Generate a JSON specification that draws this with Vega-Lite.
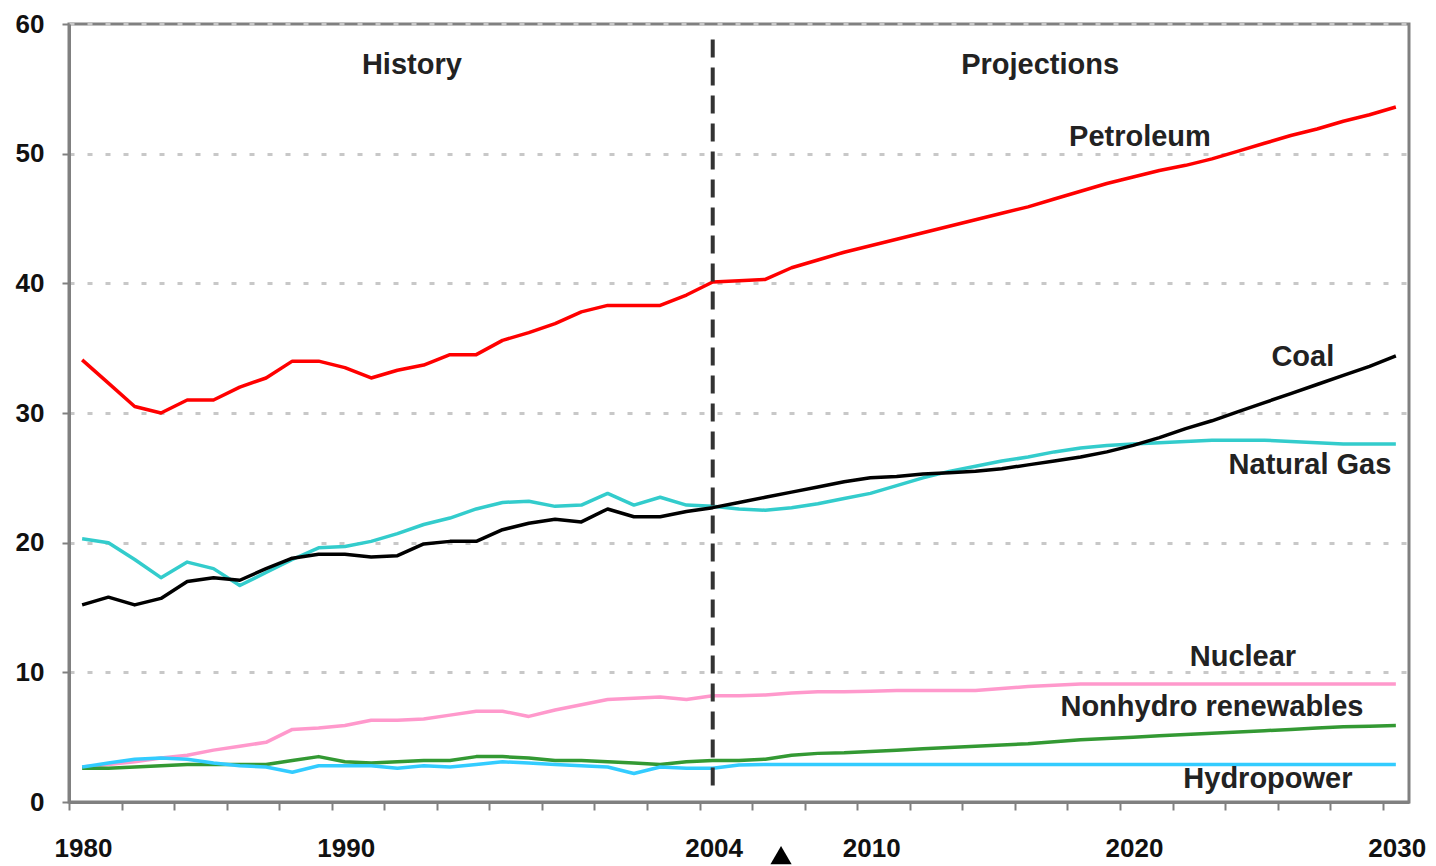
{
  "$schema": "https://vega.github.io/schema/vega-lite/v6.json",
  "autosize": {"type": "none"},
  "padding": {"left": 69, "top": 24, "right": 27, "bottom": 64},
  "width": 1340,
  "height": 778,
  "background": "white",
  "config": {
    "view": {"stroke": "#808080", "strokeWidth": 3},
    "axis": {
      "domainColor": "#808080",
      "domainWidth": 3,
      "tickColor": "#808080",
      "tickWidth": 2,
      "labelFont": "Liberation Sans",
      "labelFontWeight": "bold",
      "labelColor": "#111111",
      "labelFontSize": 26,
      "title": null
    }
  },
  "datasets": {
    "series": [
      {"year": 1980, "Petroleum": 34.1, "Coal": 15.2, "Natural Gas": 20.3, "Nuclear": 2.7, "Nonhydro renewables": 2.6, "Hydropower": 2.7},
      {"year": 1981, "Petroleum": 32.3, "Coal": 15.8, "Natural Gas": 20.0, "Nuclear": 2.9, "Nonhydro renewables": 2.6, "Hydropower": 3.0},
      {"year": 1982, "Petroleum": 30.5, "Coal": 15.2, "Natural Gas": 18.7, "Nuclear": 3.1, "Nonhydro renewables": 2.7, "Hydropower": 3.3},
      {"year": 1983, "Petroleum": 30.0, "Coal": 15.7, "Natural Gas": 17.3, "Nuclear": 3.4, "Nonhydro renewables": 2.8, "Hydropower": 3.4},
      {"year": 1984, "Petroleum": 31.0, "Coal": 17.0, "Natural Gas": 18.5, "Nuclear": 3.6, "Nonhydro renewables": 2.9, "Hydropower": 3.3},
      {"year": 1985, "Petroleum": 31.0, "Coal": 17.3, "Natural Gas": 18.0, "Nuclear": 4.0, "Nonhydro renewables": 2.9, "Hydropower": 3.0},
      {"year": 1986, "Petroleum": 32.0, "Coal": 17.1, "Natural Gas": 16.7, "Nuclear": 4.3, "Nonhydro renewables": 2.9, "Hydropower": 2.8},
      {"year": 1987, "Petroleum": 32.7, "Coal": 18.0, "Natural Gas": 17.7, "Nuclear": 4.6, "Nonhydro renewables": 2.9, "Hydropower": 2.7},
      {"year": 1988, "Petroleum": 34.0, "Coal": 18.8, "Natural Gas": 18.7, "Nuclear": 5.6, "Nonhydro renewables": 3.2, "Hydropower": 2.3},
      {"year": 1989, "Petroleum": 34.0, "Coal": 19.1, "Natural Gas": 19.6, "Nuclear": 5.7, "Nonhydro renewables": 3.5, "Hydropower": 2.8},
      {"year": 1990, "Petroleum": 33.5, "Coal": 19.1, "Natural Gas": 19.7, "Nuclear": 5.9, "Nonhydro renewables": 3.1, "Hydropower": 2.8},
      {"year": 1991, "Petroleum": 32.7, "Coal": 18.9, "Natural Gas": 20.1, "Nuclear": 6.3, "Nonhydro renewables": 3.0, "Hydropower": 2.8},
      {"year": 1992, "Petroleum": 33.3, "Coal": 19.0, "Natural Gas": 20.7, "Nuclear": 6.3, "Nonhydro renewables": 3.1, "Hydropower": 2.6},
      {"year": 1993, "Petroleum": 33.7, "Coal": 19.9, "Natural Gas": 21.4, "Nuclear": 6.4, "Nonhydro renewables": 3.2, "Hydropower": 2.8},
      {"year": 1994, "Petroleum": 34.5, "Coal": 20.1, "Natural Gas": 21.9, "Nuclear": 6.7, "Nonhydro renewables": 3.2, "Hydropower": 2.7},
      {"year": 1995, "Petroleum": 34.5, "Coal": 20.1, "Natural Gas": 22.6, "Nuclear": 7.0, "Nonhydro renewables": 3.5, "Hydropower": 2.9},
      {"year": 1996, "Petroleum": 35.6, "Coal": 21.0, "Natural Gas": 23.1, "Nuclear": 7.0, "Nonhydro renewables": 3.5, "Hydropower": 3.1},
      {"year": 1997, "Petroleum": 36.2, "Coal": 21.5, "Natural Gas": 23.2, "Nuclear": 6.6, "Nonhydro renewables": 3.4, "Hydropower": 3.0},
      {"year": 1998, "Petroleum": 36.9, "Coal": 21.8, "Natural Gas": 22.8, "Nuclear": 7.1, "Nonhydro renewables": 3.2, "Hydropower": 2.9},
      {"year": 1999, "Petroleum": 37.8, "Coal": 21.6, "Natural Gas": 22.9, "Nuclear": 7.5, "Nonhydro renewables": 3.2, "Hydropower": 2.8},
      {"year": 2000, "Petroleum": 38.3, "Coal": 22.6, "Natural Gas": 23.8, "Nuclear": 7.9, "Nonhydro renewables": 3.1, "Hydropower": 2.7},
      {"year": 2001, "Petroleum": 38.3, "Coal": 22.0, "Natural Gas": 22.9, "Nuclear": 8.0, "Nonhydro renewables": 3.0, "Hydropower": 2.2},
      {"year": 2002, "Petroleum": 38.3, "Coal": 22.0, "Natural Gas": 23.5, "Nuclear": 8.1, "Nonhydro renewables": 2.9, "Hydropower": 2.7},
      {"year": 2003, "Petroleum": 39.1, "Coal": 22.4, "Natural Gas": 22.9, "Nuclear": 7.9, "Nonhydro renewables": 3.1, "Hydropower": 2.6},
      {"year": 2004, "Petroleum": 40.1, "Coal": 22.7, "Natural Gas": 22.8, "Nuclear": 8.2, "Nonhydro renewables": 3.2, "Hydropower": 2.6},
      {"year": 2005, "Petroleum": 40.2, "Coal": 23.1, "Natural Gas": 22.6, "Nuclear": 8.2, "Nonhydro renewables": 3.2, "Hydropower": 2.85},
      {"year": 2006, "Petroleum": 40.3, "Coal": 23.5, "Natural Gas": 22.5, "Nuclear": 8.25, "Nonhydro renewables": 3.3, "Hydropower": 2.9},
      {"year": 2007, "Petroleum": 41.2, "Coal": 23.9, "Natural Gas": 22.7, "Nuclear": 8.4, "Nonhydro renewables": 3.6, "Hydropower": 2.9},
      {"year": 2008, "Petroleum": 41.8, "Coal": 24.3, "Natural Gas": 23.0, "Nuclear": 8.5, "Nonhydro renewables": 3.75, "Hydropower": 2.9},
      {"year": 2009, "Petroleum": 42.4, "Coal": 24.7, "Natural Gas": 23.4, "Nuclear": 8.5, "Nonhydro renewables": 3.8, "Hydropower": 2.9},
      {"year": 2010, "Petroleum": 42.9, "Coal": 25.0, "Natural Gas": 23.8, "Nuclear": 8.55, "Nonhydro renewables": 3.9, "Hydropower": 2.9},
      {"year": 2011, "Petroleum": 43.4, "Coal": 25.1, "Natural Gas": 24.4, "Nuclear": 8.6, "Nonhydro renewables": 4.0, "Hydropower": 2.9},
      {"year": 2012, "Petroleum": 43.9, "Coal": 25.3, "Natural Gas": 25.0, "Nuclear": 8.6, "Nonhydro renewables": 4.1, "Hydropower": 2.9},
      {"year": 2013, "Petroleum": 44.4, "Coal": 25.4, "Natural Gas": 25.5, "Nuclear": 8.6, "Nonhydro renewables": 4.2, "Hydropower": 2.9},
      {"year": 2014, "Petroleum": 44.9, "Coal": 25.5, "Natural Gas": 25.9, "Nuclear": 8.6, "Nonhydro renewables": 4.3, "Hydropower": 2.9},
      {"year": 2015, "Petroleum": 45.4, "Coal": 25.7, "Natural Gas": 26.3, "Nuclear": 8.75, "Nonhydro renewables": 4.4, "Hydropower": 2.9},
      {"year": 2016, "Petroleum": 45.9, "Coal": 26.0, "Natural Gas": 26.6, "Nuclear": 8.9, "Nonhydro renewables": 4.5, "Hydropower": 2.9},
      {"year": 2017, "Petroleum": 46.5, "Coal": 26.3, "Natural Gas": 27.0, "Nuclear": 9.0, "Nonhydro renewables": 4.65, "Hydropower": 2.9},
      {"year": 2018, "Petroleum": 47.1, "Coal": 26.6, "Natural Gas": 27.3, "Nuclear": 9.1, "Nonhydro renewables": 4.8, "Hydropower": 2.9},
      {"year": 2019, "Petroleum": 47.7, "Coal": 27.0, "Natural Gas": 27.5, "Nuclear": 9.1, "Nonhydro renewables": 4.9, "Hydropower": 2.9},
      {"year": 2020, "Petroleum": 48.2, "Coal": 27.5, "Natural Gas": 27.6, "Nuclear": 9.1, "Nonhydro renewables": 5.0, "Hydropower": 2.9},
      {"year": 2021, "Petroleum": 48.7, "Coal": 28.1, "Natural Gas": 27.7, "Nuclear": 9.1, "Nonhydro renewables": 5.1, "Hydropower": 2.9},
      {"year": 2022, "Petroleum": 49.1, "Coal": 28.8, "Natural Gas": 27.8, "Nuclear": 9.1, "Nonhydro renewables": 5.2, "Hydropower": 2.9},
      {"year": 2023, "Petroleum": 49.6, "Coal": 29.4, "Natural Gas": 27.9, "Nuclear": 9.1, "Nonhydro renewables": 5.3, "Hydropower": 2.9},
      {"year": 2024, "Petroleum": 50.2, "Coal": 30.1, "Natural Gas": 27.9, "Nuclear": 9.1, "Nonhydro renewables": 5.4, "Hydropower": 2.9},
      {"year": 2025, "Petroleum": 50.8, "Coal": 30.8, "Natural Gas": 27.9, "Nuclear": 9.1, "Nonhydro renewables": 5.5, "Hydropower": 2.9},
      {"year": 2026, "Petroleum": 51.4, "Coal": 31.5, "Natural Gas": 27.8, "Nuclear": 9.1, "Nonhydro renewables": 5.6, "Hydropower": 2.9},
      {"year": 2027, "Petroleum": 51.9, "Coal": 32.2, "Natural Gas": 27.7, "Nuclear": 9.1, "Nonhydro renewables": 5.7, "Hydropower": 2.9},
      {"year": 2028, "Petroleum": 52.5, "Coal": 32.9, "Natural Gas": 27.6, "Nuclear": 9.1, "Nonhydro renewables": 5.8, "Hydropower": 2.9},
      {"year": 2029, "Petroleum": 53.0, "Coal": 33.6, "Natural Gas": 27.6, "Nuclear": 9.1, "Nonhydro renewables": 5.85, "Hydropower": 2.9},
      {"year": 2030, "Petroleum": 53.6, "Coal": 34.4, "Natural Gas": 27.6, "Nuclear": 9.1, "Nonhydro renewables": 5.9, "Hydropower": 2.9}
    ],
    "labels": [
      {"text": "History", "year": 1992.55, "value": 56.8},
      {"text": "Projections", "year": 2016.46, "value": 56.8},
      {"text": "Petroleum", "year": 2020.26, "value": 51.3},
      {"text": "Coal", "year": 2026.46, "value": 34.3},
      {"text": "Natural Gas", "year": 2026.73, "value": 26.0},
      {"text": "Nuclear", "year": 2024.18, "value": 11.2},
      {"text": "Nonhydro renewables", "year": 2023.0, "value": 7.33},
      {"text": "Hydropower", "year": 2025.13, "value": 1.77}
    ],
    "marker": [
      {"year": 2004, "top": 58.8, "bottom": 0.5}
    ],
    "arrow": [
      {"year": 2006.6, "value": -4.1}
    ]
  },
  "layer": [
    {
      "data": {"name": "series"},
      "transform": [
        {"fold": ["Petroleum", "Natural Gas", "Coal", "Nuclear", "Nonhydro renewables", "Hydropower"], "as": ["source", "value"]}
      ],
      "mark": {"type": "line", "strokeWidth": 3.5, "interpolate": "linear", "strokeJoin": "round"},
      "encoding": {
        "x": {
          "field": "year",
          "type": "quantitative",
          "scale": {"domain": [1979.5, 2030.5], "nice": false, "zero": false},
          "axis": {
            "values": [1979.5, 1980.5, 1981.5, 1982.5, 1983.5, 1984.5, 1985.5, 1986.5, 1987.5, 1988.5, 1989.5, 1990.5, 1991.5, 1992.5, 1993.5, 1994.5, 1995.5, 1996.5, 1997.5, 1998.5, 1999.5, 2000.5, 2001.5, 2002.5, 2003.5, 2004.5, 2005.5, 2006.5, 2007.5, 2008.5, 2009.5, 2010.5, 2011.5, 2012.5, 2013.5, 2014.5, 2015.5, 2016.5, 2017.5, 2018.5, 2019.5, 2020.5, 2021.5, 2022.5, 2023.5, 2024.5, 2025.5, 2026.5, 2027.5, 2028.5, 2029.5, 2030.5],
            "labelExpr": "indexof([1980, 1990, 2004, 2010, 2020, 2030], datum.value + 0.5) >= 0 ? format(datum.value + 0.5, 'd') : ''",
            "labelOffset": 14,
            "labelFlush": false,
            "labelOverlap": false,
            "labelBound": false,
            "tickSize": 8,
            "labelPadding": 25,
            "grid": false,
            "title": null
          }
        },
        "y": {
          "field": "value",
          "type": "quantitative",
          "scale": {"domain": [0, 60], "nice": false},
          "axis": {
            "values": [0, 10, 20, 30, 40, 50, 60],
            "tickSize": 7,
            "labelPadding": 18,
            "grid": true,
            "gridDash": [5, 13],
            "gridColor": "#c8c8c8",
            "gridWidth": 3,
            "title": null
          }
        },
        "color": {
          "field": "source",
          "type": "nominal",
          "scale": {
            "domain": ["Petroleum", "Natural Gas", "Coal", "Nuclear", "Nonhydro renewables", "Hydropower"],
            "range": ["#ff0000", "#33cccc", "#000000", "#ff99cc", "#339933", "#33ccff"]
          },
          "legend": null
        }
      }
    },
    {
      "data": {"name": "marker"},
      "mark": {"type": "rule", "strokeDash": [18, 10], "strokeWidth": 4, "color": "#333333"},
      "encoding": {
        "x": {"field": "year", "type": "quantitative"},
        "y": {"field": "top", "type": "quantitative"},
        "y2": {"field": "bottom"}
      }
    },
    {
      "data": {"name": "labels"},
      "mark": {"type": "text", "font": "Liberation Sans", "fontWeight": "bold", "fontSize": 29, "color": "#222222", "align": "center", "baseline": "middle"},
      "encoding": {
        "x": {"field": "year", "type": "quantitative"},
        "y": {"field": "value", "type": "quantitative"},
        "text": {"field": "text"}
      }
    },
    {
      "data": {"name": "arrow"},
      "mark": {"type": "point", "shape": "triangle-up", "filled": true, "color": "#000000", "size": 450, "opacity": 1, "clip": false},
      "encoding": {
        "x": {"field": "year", "type": "quantitative"},
        "y": {"field": "value", "type": "quantitative"}
      }
    }
  ]
}
